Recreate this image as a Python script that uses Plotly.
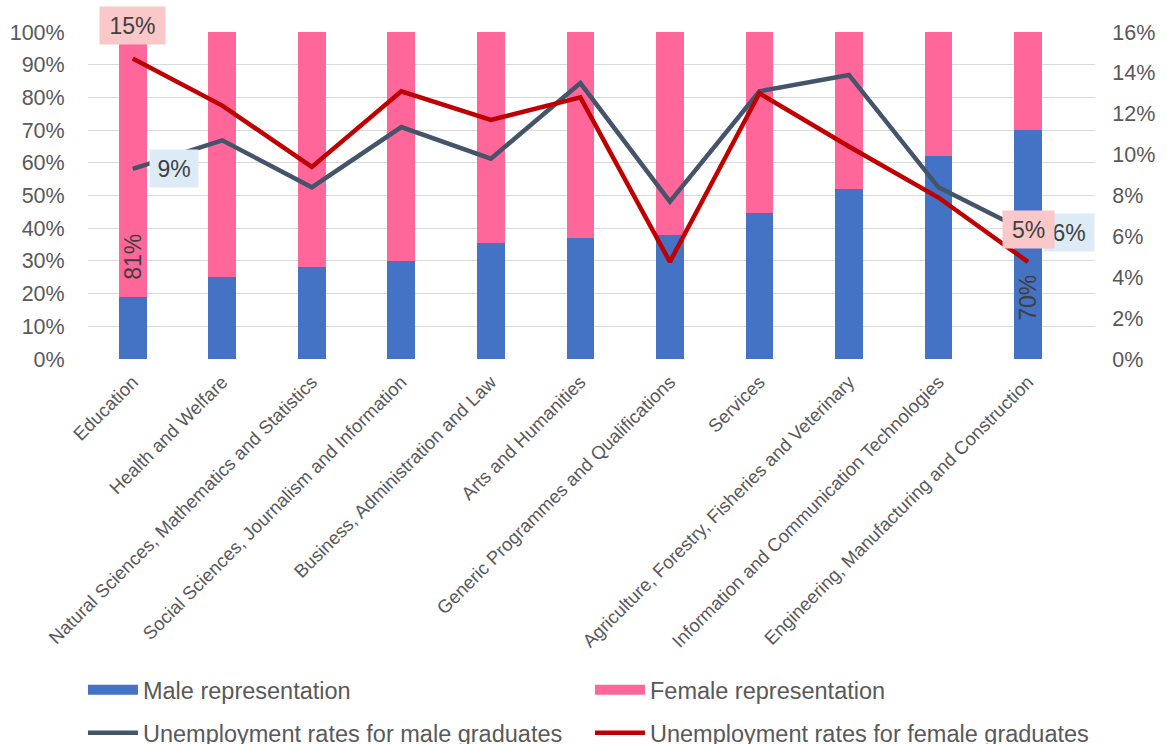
import plotly.graph_objects as go

categories = [
    "Education",
    "Health and Welfare",
    "Natural Sciences, Mathematics and Statistics",
    "Social Sciences, Journalism and Information",
    "Business, Administration and Law",
    "Arts and Humanities",
    "Generic Programmes and Qualifications",
    "Services",
    "Agriculture, Forestry, Fisheries and Veterinary",
    "Information and Communication Technologies",
    "Engineering, Manufacturing and Construction",
]
male_rep = [0.19, 0.25, 0.28, 0.30, 0.355, 0.37, 0.38, 0.445, 0.52, 0.62, 0.70]
female_rep = [round(1 - v, 3) for v in male_rep]
male_unemp = [0.093, 0.107, 0.084, 0.1135, 0.098, 0.135, 0.077, 0.131, 0.139, 0.084, 0.062]
female_unemp = [0.147, 0.124, 0.094, 0.131, 0.117, 0.128, 0.0475, 0.130, 0.104, 0.079, 0.0475]

BLUE = "#4472C4"
PINK = "#FF6699"
GREY = "#44546A"
RED = "#C00000"
TXT = "#595959"
LBL = "#404040"
FONT = "Liberation Sans, Arial, sans-serif"

fig = go.Figure()
fig.add_trace(go.Bar(x=categories, y=male_rep, name="Male representation",
                     marker=dict(color=BLUE, line=dict(width=0)), showlegend=False))
fig.add_trace(go.Bar(x=categories, y=female_rep, name="Female representation",
                     marker=dict(color=PINK, line=dict(width=0)), showlegend=False))
fig.add_trace(go.Scatter(x=categories, y=male_unemp, yaxis="y2", mode="lines",
                         name="Unemployment rates for male graduates",
                         line=dict(color=GREY, width=4.5), legend="legend2"))
fig.add_trace(go.Scatter(x=categories, y=female_unemp, yaxis="y2", mode="lines",
                         name="Unemployment rates for female graduates",
                         line=dict(color=RED, width=4.5), legend="legend2"))
# legend proxies for the bars
fig.add_trace(go.Scatter(x=[None], y=[None], mode="lines", name="Male representation",
                         line=dict(color=BLUE, width=12), legend="legend"))
fig.add_trace(go.Scatter(x=[None], y=[None], mode="lines", name="Female representation",
                         line=dict(color=PINK, width=12), legend="legend"))

ann = []
ann.append(dict(x=categories[0], y=female_unemp[0], xref="x", yref="y2", text="15%",
                showarrow=False, yshift=33, bgcolor="#FAC8C8", width=63, height=35,
                font=dict(size=23, color=LBL, family=FONT)))
ann.append(dict(x=categories[0], y=male_unemp[0], xref="x", yref="y2", text="9%",
                showarrow=False, xshift=41, bgcolor="#DDEBF7", width=46, height=35,
                font=dict(size=23, color=LBL, family=FONT)))
ann.append(dict(x=categories[-1], y=male_unemp[-1], xref="x", yref="y2", text="6%",
                showarrow=False, xshift=41, bgcolor="#DDEBF7", width=48, height=35,
                font=dict(size=23, color=LBL, family=FONT)))
ann.append(dict(x=categories[-1], y=female_unemp[-1], xref="x", yref="y2", text="5%",
                showarrow=False, yshift=32, bgcolor="#FAC8C8", width=49, height=35,
                font=dict(size=23, color=LBL, family=FONT)))
ann.append(dict(x=categories[0], y=0.312, xref="x", yref="y", text="81%",
                showarrow=False, textangle=-90,
                font=dict(size=23, color=LBL, family=FONT)))
ann.append(dict(x=categories[-1], y=0.187, xref="x", yref="y", text="70%",
                showarrow=False, textangle=-90,
                font=dict(size=23, color=LBL, family=FONT)))

legend_common = dict(orientation="h", x=-0.005, xanchor="left", yanchor="middle",
                     font=dict(size=23.5, color=TXT), itemwidth=50, traceorder="normal",
                     entrywidth=442, bgcolor="rgba(0,0,0,0)")

fig.update_layout(
    width=1167, height=744,
    margin=dict(l=88, r=72, t=32, b=385, autoexpand=False),
    paper_bgcolor="white", plot_bgcolor="white",
    barmode="stack", bargap=0.69,
    font=dict(family=FONT, color=TXT),
    xaxis=dict(tickangle=-45, tickfont=dict(size=18.5, color=TXT), showgrid=False,
               showline=False, ticks="outside", ticklen=4, tickcolor="rgba(0,0,0,0)",
               automargin=False),
    yaxis=dict(range=[0, 1], dtick=0.1, tickformat=".0%", showgrid=True,
               gridcolor="#D9D9D9", gridwidth=1.3, zeroline=False, automargin=False,
               tickfont=dict(size=21.5, color=TXT), ticks="outside", ticklen=18,
               tickcolor="rgba(0,0,0,0)"),
    yaxis2=dict(range=[0, 0.16], dtick=0.02, tickformat=".0%", overlaying="y",
                side="right", showgrid=False, zeroline=False, automargin=False,
                tickfont=dict(size=21.5, color=TXT), ticks="outside", ticklen=12,
                tickcolor="rgba(0,0,0,0)"),
    legend=dict(legend_common, y=-1.012),
    legend2=dict(legend_common, y=-1.144),
    annotations=ann,
)

fig.write_html("out.html")
